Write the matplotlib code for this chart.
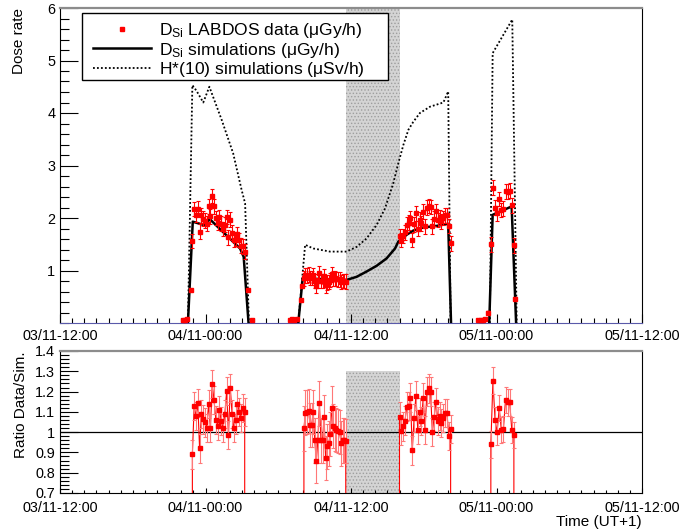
import numpy as np
import pandas as pd
import matplotlib
matplotlib.use('Agg')
import matplotlib.pyplot as plt
import matplotlib.dates as mdates
from matplotlib.ticker import MultipleLocator, FixedLocator
from matplotlib.lines import Line2D
from matplotlib.patches import Rectangle

plt.rcParams['font.family'] = ['Liberation Sans', 'DejaVu Sans']
plt.rcParams['mathtext.fontset'] = 'custom'
plt.rcParams['mathtext.rm'] = 'Liberation Sans'
plt.rcParams['mathtext.it'] = 'Liberation Sans:italic'
plt.rcParams['hatch.linewidth'] = 0.6

YEAR = '2021'

# ---------------- simulation curves (time 'MM-DD HH:MM', value) ----------------
DSI_T1 = ['11-03 22:33', '11-03 22:57', '11-04 00:06', '11-04 00:18', '11-04 02:51', '11-04 03:09', '11-04 03:33']
DSI_V1 = [0.0, 1.93, 1.85, 1.99, 1.42, 1.26, 0.0]
DSI_T2 = ['11-04 07:39', '11-04 08:01', '11-04 11:38', '11-04 12:28', '11-04 13:17', '11-04 14:07', '11-04 14:56',
          '11-04 15:38', '11-04 15:54', '11-04 16:35', '11-04 17:08', '11-04 17:58', '11-04 19:04', '11-04 20:01',
          '11-04 20:15']
DSI_V2 = [0.0, 0.85, 0.82, 0.88, 0.98, 1.09, 1.23, 1.42, 1.55, 1.68, 1.76, 1.82, 1.85, 1.89, 0.0]
DSI_T3 = ['11-04 23:24', '11-04 23:41', '11-05 01:15', '11-05 01:37']
DSI_V3 = [0.0, 2.06, 2.22, 0.0]

H10_T1 = ['11-03 22:33', '11-03 22:55', '11-03 23:16', '11-03 23:49', '11-04 00:19', '11-04 01:20', '11-04 02:17',
          '11-04 02:59', '11-04 03:16', '11-04 03:35']
H10_V1 = [0.0, 4.53, 4.42, 4.20, 4.50, 3.87, 3.23, 2.53, 2.28, 0.0]
H10_T2 = ['11-04 07:39', '11-04 08:13', '11-04 08:53', '11-04 10:16', '11-04 11:38', '11-04 12:28', '11-04 13:17',
          '11-04 14:07', '11-04 14:48', '11-04 15:29', '11-04 15:54', '11-04 16:19', '11-04 16:44', '11-04 17:08',
          '11-04 17:41', '11-04 18:31', '11-04 19:37', '11-04 20:01', '11-04 20:13']
H10_V2 = [0.0, 1.49, 1.42, 1.36, 1.36, 1.45, 1.61, 1.87, 2.18, 2.66, 3.04, 3.39, 3.68, 3.83,
          4.00, 4.12, 4.20, 4.41, 0.0]
H10_T3 = ['11-04 23:27', '11-04 23:41', '11-05 01:18', '11-05 01:40']
H10_V3 = [0.0, 5.14, 5.78, 0.0]

# ---------------- measured data segments ----------------
F1_START, F1_END = '11-03 22:55', '11-04 03:14'
F1_RATIO = [0.89, 1.13, 1.08, 1.145, 0.92, 1.09, 1.063, 1.048, 1.02, 1.14, 1.02, 1.237, 1.158, 1.06, 1.03,
            1.11, 1.055, 1.02, 1.09, 1.204, 0.986, 1.219, 1.09, 1.02, 1.06, 1.14, 1.10, 1.07, 1.12, 1.10]
F1_DATA = [1.56, 2.17, 2.06, 2.18, 1.74, 2.05, 1.99, 1.95, 1.89, 2.22, 2.03, 2.42, 2.22, 2.00, 1.91,
           2.02, 1.89, 1.79, 1.87, 2.02, 1.63, 1.97, 1.72, 1.58, 1.60, 1.69, 1.58, 1.47, 1.46, 1.36]

F2A_START, F2A_END = '11-04 08:07', '11-04 11:34'
F2A_RATIO = [1.019, 1.096, 1.10, 1.105, 1.035, 1.035, 1.10, 0.96, 0.857, 0.96, 1.142, 0.96, 0.96, 1.073,
             0.872, 0.93, 0.945, 0.99, 1.117, 1.03, 1.019, 1.01, 1.005, 1.0, 0.945, 0.96, 0.96, 0.957]
F2A_DATA = [0.85, 0.91, 0.91, 0.92, 0.86, 0.86, 0.91, 0.80, 0.71, 0.80, 0.95, 0.80, 0.80, 0.89,
            0.72, 0.77, 0.78, 0.82, 0.93, 0.85, 0.85, 0.84, 0.83, 0.83, 0.78, 0.80, 0.80, 0.79]

F2B_START, F2B_END = '11-04 16:00', '11-04 20:13'
F2B_RATIO = [1.077, 1.006, 1.028, 1.057, 1.126, 1.13, 1.17, 0.91, 1.07, 1.18, 1.01, 1.10, 1.056, 1.17, 1.01,
             1.20, 1.216, 1.20, 1.00, 1.077, 1.15, 1.056, 1.08, 1.045, 1.07, 1.093, 1.093, 0.98, 1.016]
F2B_DATA = [1.66, 1.58, 1.66, 1.73, 1.87, 1.91, 2.00, 1.58, 1.88, 2.09, 1.80, 1.97, 1.90, 2.12, 1.84,
            2.20, 2.23, 2.21, 1.84, 1.99, 2.13, 1.96, 2.01, 1.94, 2.00, 2.05, 2.05, 1.85, 1.52]

F3_START, F3_END = '11-04 23:32', '11-05 01:26'
F3_RATIO = [0.94, 1.254, 1.06, 1.0, 1.12, 1.01, 1.014, 1.16, 1.147, 1.147, 1.01, 0.987]
F3_DATA = [1.50, 2.58, 2.20, 2.09, 2.36, 2.15, 2.18, 2.51, 2.50, 2.52, 2.24, 1.48]

RATIO_ERR = [0.07, 0.11, 0.07, 0.065]
DATA_ERR = 0.14

EXTRA_T = ['11-03 22:08', '11-03 22:19', '11-03 22:28', '11-03 22:47', '11-04 03:32', '11-04 03:49',
           '11-04 06:56', '11-04 07:08', '11-04 07:20', '11-04 07:33', '11-04 07:51', '11-04 07:59',
           '11-04 22:28', '11-04 22:41', '11-04 22:53', '11-04 23:05', '11-04 23:19', '11-05 01:34']
EXTRA_V = [0.06, 0.05, 0.07, 0.63, 0.63, 0.06, 0.06, 0.08, 0.05, 0.07, 0.44, 0.70,
           0.05, 0.06, 0.05, 0.07, 0.20, 0.45]

SHADE_START, SHADE_END = '11-04 11:35', '11-04 16:01'
X_START, X_END = '11-03 12:00', '11-05 12:00'

LEGEND_LABELS = [r'D$_{\mathrm{Si}}$ LABDOS data ($\mathrm{\mu}$Gy/h)',
                 r'D$_{\mathrm{Si}}$ simulations ($\mathrm{\mu}$Gy/h)',
                 r'H*(10) simulations ($\mathrm{\mu}$Sv/h)']


def T(s):
    return pd.Timestamp(f'{YEAR}-{s}')


def TL(lst):
    return [T(s) for s in lst]


RED = '#ff0000'
PINK = '#ff7878'
SHADE_FC = '#d4d4d4'
SHADE_HC = '#9e9e9e'
DOT = (0, (1.0, 1.2))

fig = plt.figure(figsize=(6.79, 5.31), dpi=100)
W, H = 679.0, 531.0
ax1 = fig.add_axes([60 / W, 1 - 323 / H, 582 / W, 315 / H])
ax2 = fig.add_axes([60 / W, 1 - 493 / H, 582 / W, 142 / H])

segments = [(F1_START, F1_END, F1_RATIO, F1_DATA),
            (F2A_START, F2A_END, F2A_RATIO, F2A_DATA),
            (F2B_START, F2B_END, F2B_RATIO, F2B_DATA),
            (F3_START, F3_END, F3_RATIO, F3_DATA)]

# ---------- top panel ----------
ax1.axvspan(T(SHADE_START), T(SHADE_END), facecolor=SHADE_FC, hatch='.....',
            edgecolor=SHADE_HC, lw=0, zorder=0)

for tt, vv in [(H10_T1, H10_V1), (H10_T2, H10_V2), (H10_T3, H10_V3)]:
    ax1.plot(TL(tt), vv, color='black', lw=1.3, ls=DOT, zorder=3)
for tt, vv in [(DSI_T1, DSI_V1), (DSI_T2, DSI_V2), (DSI_T3, DSI_V3)]:
    ax1.plot(TL(tt), vv, color='black', lw=1.8, zorder=3)

for (s, e, r, d) in segments:
    times = pd.date_range(T(s), T(e), periods=len(d))
    ax1.errorbar(times, d, yerr=DATA_ERR, fmt='s', color=RED, ms=3.2, ecolor=RED,
                 elinewidth=0.8, capsize=1.5, capthick=0.8, zorder=4)
ax1.errorbar(TL(EXTRA_T), EXTRA_V, yerr=0.02, fmt='s', color=RED, ms=3.2, ecolor=RED,
             elinewidth=0.8, capsize=1.5, zorder=4)

ax1.set_xlim(T(X_START), T(X_END))
ax1.set_ylim(0, 6)
ax1.yaxis.set_major_locator(FixedLocator([1, 2, 3, 4, 5, 6]))
ax1.yaxis.set_minor_locator(MultipleLocator(0.2))
ax1.set_ylabel('Dose rate', loc='top', fontsize=11)
ax1.yaxis.set_label_coords(-0.058, 1.0)

# legend: box drawn explicitly, entries placed inside it
ax1.add_patch(Rectangle((22 / 582, 243 / 315), 306 / 582, 67 / 315, transform=ax1.transAxes,
                        facecolor='white', edgecolor='black', lw=1.0, zorder=9, clip_on=False))
handles = [Line2D([], [], marker='s', color=RED, ls='none', ms=3.2),
           Line2D([], [], color='black', lw=1.8),
           Line2D([], [], color='black', lw=1.3, ls=DOT)]
leg = ax1.legend(handles, LEGEND_LABELS, loc='upper left', bbox_to_anchor=(33 / 582, 0.959),
                 borderaxespad=0, borderpad=0, fontsize=12.6, frameon=False,
                 handlelength=3.3, handletextpad=0.45, labelspacing=0.04)
leg.set_zorder(10)

# ---------- bottom panel ----------
ax2.fill_between([T(SHADE_START), T(SHADE_END)], 0.7, 1.3, facecolor=SHADE_FC, hatch='.....',
                 edgecolor=SHADE_HC, lw=0, zorder=0)
ax2.axhline(1.0, color='black', lw=0.9, zorder=2)

for (s, e, r, d), rerr in zip(segments, RATIO_ERR):
    times = pd.date_range(T(s), T(e), periods=len(r))
    tl = [times[0]] + list(times) + [times[-1]]
    rl = [0.0] + list(r) + [0.0]
    ax2.plot(tl, rl, color=RED, lw=0.8, zorder=3)
    ax2.errorbar(times, r, yerr=rerr, fmt='none', ecolor=PINK, elinewidth=0.8,
                 capsize=1.5, capthick=0.8, zorder=3)
    ax2.plot(times, r, 's', color=RED, ms=3.2, zorder=4)

ax2.set_xlim(T(X_START), T(X_END))
ax2.set_ylim(0.7, 1.4)
ax2.yaxis.set_major_locator(MultipleLocator(0.1))
ax2.yaxis.set_minor_locator(MultipleLocator(0.02))
ax2.yaxis.set_major_formatter(plt.FuncFormatter(lambda v, p: f'{v:g}'))
ax2.set_ylabel('Ratio Data/Sim.', loc='top', fontsize=11)
ax2.yaxis.set_label_coords(-0.055, 1.0)
ax2.set_xlabel('Time (UT+1)', fontsize=11, ha='right', va='top')
ax2.xaxis.set_label_coords(1.0, -0.152)

for ax, xl, xpad in [(ax1, (6.5, 3.4), 4), (ax2, (3.5, 2.2), 6)]:
    ax.xaxis.set_major_locator(mdates.HourLocator(byhour=[0, 12]))
    ax.xaxis.set_minor_locator(mdates.HourLocator(interval=1))
    ax.xaxis.set_major_formatter(mdates.DateFormatter('%d/%m-%H:%M'))
    ax.tick_params(which='both', direction='in', top=False, right=False, labelsize=10.4, width=0.8)
    ax.tick_params(axis='y', which='major', length=13, pad=3.5)
    ax.tick_params(axis='y', which='minor', length=6.5)
    ax.tick_params(axis='x', which='major', length=xl[0], pad=xpad)
    ax.tick_params(axis='x', which='minor', length=xl[1])
    ax.spines['top'].set_color('#8c8c8c')
    ax.spines['top'].set_linewidth(1.6)
    ax.spines['left'].set_linewidth(0.8)
    ax.spines['right'].set_linewidth(0.8)
    ax.spines['bottom'].set_linewidth(0.8)
ax1.spines['bottom'].set_color('#5a5aaa')

fig.savefig('out.png', dpi=100)
